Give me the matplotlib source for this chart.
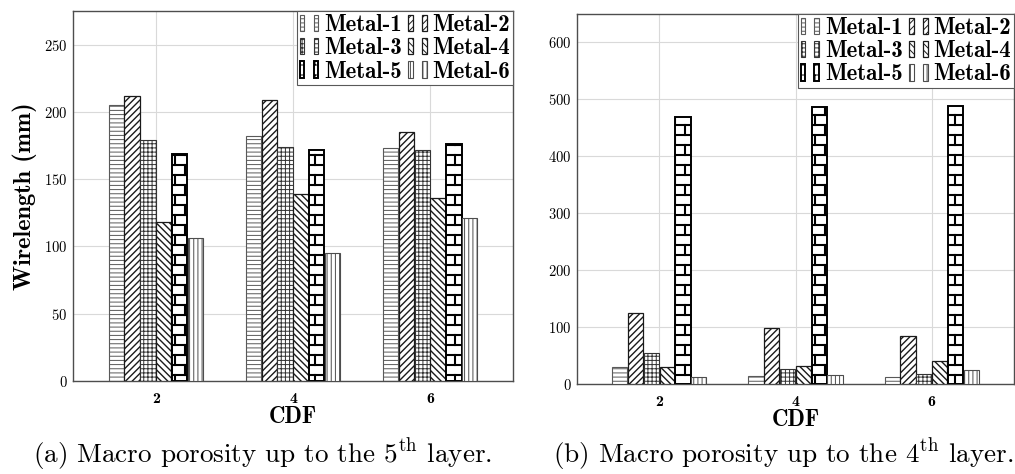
import warnings
warnings.filterwarnings("ignore")
import numpy as np
import matplotlib
matplotlib.use("Agg")
import matplotlib.pyplot as plt
import matplotlib.hatch as mhatch
from matplotlib.path import Path
from matplotlib.legend_handler import HandlerTuple

# ---------------- data ----------------
cdf = [2, 4, 6]
metals = ["Metal-1", "Metal-2", "Metal-3", "Metal-4", "Metal-5", "Metal-6"]

# (a) macro porosity up to the 5th layer
l5_metal1 = [205, 182, 173]
l5_metal2 = [212, 209, 185]
l5_metal3 = [179, 174, 172]
l5_metal4 = [118, 139, 136]
l5_metal5 = [169, 172, 176]
l5_metal6 = [106, 95, 121]

# (b) macro porosity up to the 4th layer
l4_metal1 = [29, 14, 12]
l4_metal2 = [125, 98, 85]
l4_metal3 = [55, 26, 17]
l4_metal4 = [29, 32, 41]
l4_metal5 = [469, 487, 489]
l4_metal6 = [13, 16, 25]

captions = [r"(a) Macro porosity up to the 5$^{\mathrm{th}}$ layer.",
            r"(b) Macro porosity up to the 4$^{\mathrm{th}}$ layer."]


# ---------------- custom brick hatch ----------------
class BrickHatch(mhatch.HatchPatternBase):
    rows = 10
    cols = 5

    def __init__(self, hatch, density):
        self.on = 'b' in hatch
        if self.on:
            self.num_vertices = 2 * self.rows + 2 * self.rows * self.cols + 2 * self.cols
        else:
            self.num_vertices = 0

    def set_vertices_and_codes(self, vertices, codes):
        k = 0
        r, c = self.rows, self.cols
        ys = [(i + 0.5) / r for i in range(r)]
        for y in ys:
            vertices[k] = (0.0, y)
            vertices[k + 1] = (1.0, y)
            codes[k] = Path.MOVETO
            codes[k + 1] = Path.LINETO
            k += 2
        for i in range(r):
            off = 0.25 + 0.5 * (i % 2)
            y0 = ys[i]
            y1 = ys[i] + 1.0 / r
            for j in range(c):
                xj = (j + off) / c
                if y1 <= 1.0:
                    vertices[k] = (xj, y0)
                    vertices[k + 1] = (xj, y1)
                    codes[k] = Path.MOVETO
                    codes[k + 1] = Path.LINETO
                    k += 2
                else:
                    vertices[k] = (xj, y0)
                    vertices[k + 1] = (xj, 1.0)
                    codes[k] = Path.MOVETO
                    codes[k + 1] = Path.LINETO
                    k += 2
                    vertices[k] = (xj, 0.0)
                    vertices[k + 1] = (xj, y1 - 1.0)
                    codes[k] = Path.MOVETO
                    codes[k + 1] = Path.LINETO
                    k += 2


mhatch._hatch_types.append(BrickHatch)

# ---------------- style ----------------
plt.rcParams["font.family"] = ["cmr10", "DejaVu Serif"]
plt.rcParams["mathtext.fontset"] = "cm"
plt.rcParams["axes.formatter.use_mathtext"] = True
plt.rcParams["hatch.linewidth"] = 0.7

hatches = ["----", "/////", "++++", "\\\\\\\\\\", "b", "||||"]
edgecols = ["0.35", "0.1", "0.2", "0.1", "0.0", "0.3"]
hatch_lw = [0.7, 1.0, 0.7, 1.0, 1.5, 0.7]
edge_lw = [0.8, 0.9, 0.8, 0.9, 1.4, 0.8]

fig = plt.figure(figsize=(10.15, 4.74), dpi=100)
ax_a = fig.add_axes([73 / 1015, 93 / 474, 440 / 1015, 370 / 474])
ax_b = fig.add_axes([577 / 1015, 90 / 474, 437 / 1015, 370 / 474])

panels = [
    (ax_a, [l5_metal1, l5_metal2, l5_metal3, l5_metal4, l5_metal5, l5_metal6], 275, [0, 50, 100, 150, 200, 250]),
    (ax_b, [l4_metal1, l4_metal2, l4_metal3, l4_metal4, l4_metal5, l4_metal6], 650, [0, 100, 200, 300, 400, 500, 600]),
]

x = np.array(cdf, dtype=float)
step = 0.232
width = 0.222
legend_order = [0, 2, 4, 1, 3, 5]  # row-wise filling as in the reference

for ax, vals, ytop, yticks in panels:
    conts = []
    for i, (name, v) in enumerate(zip(metals, vals)):
        with plt.rc_context({"hatch.linewidth": hatch_lw[i]}):
            bc = ax.bar(x + (i - 2.5) * step, v, width, facecolor="white",
                        edgecolor=edgecols[i], linewidth=edge_lw[i],
                        hatch=hatches[i], label=name, zorder=3)
        for p in bc.patches:
            if hasattr(p, "set_hatch_linewidth"):
                p.set_hatch_linewidth(hatch_lw[i])
        conts.append(bc)
    ax.set_xlim(0.79, 7.21)
    ax.set_ylim(0, ytop)
    ax.set_xticks(cdf)
    ax.set_xticklabels([str(c) for c in cdf], fontfamily="cmb10", fontsize=11.5)
    ax.set_yticks(yticks)
    ax.tick_params(axis="both", length=0)
    ax.tick_params(axis="x", pad=8)
    ax.tick_params(axis="y", pad=4, labelsize=10.5)
    ax.grid(True, color="0.85", linewidth=0.8, zorder=0)
    ax.set_axisbelow(True)
    for s in ax.spines.values():
        s.set_color("0.3")
        s.set_linewidth(1.0)
    ax.set_xlabel("CDF", fontfamily="cmb10", fontsize=16.5, labelpad=0)
    handles = [(conts[k].patches[0], conts[k].patches[0]) for k in legend_order]
    labels = [metals[k] for k in legend_order]
    leg = ax.legend(handles, labels, ncol=2, loc="upper right",
                    borderaxespad=0, frameon=True, fancybox=False,
                    edgecolor="0.35", framealpha=1,
                    prop={"family": "cmb10", "size": 16.5},
                    handler_map={tuple: HandlerTuple(ndivide=None, pad=0.4)},
                    handlelength=0.8, handleheight=0.7, handletextpad=0.25,
                    columnspacing=0.3, labelspacing=0.06, borderpad=0.12)
    leg.get_frame().set_linewidth(0.8)
    leg.set_zorder(5)

ax_a.set_ylabel("Wirelength (mm)", fontfamily="cmb10", fontsize=17.5, labelpad=5)

fig.text(263 / 1015, 12 / 474, captions[0], ha="center", va="baseline", fontsize=19.5)
fig.text(783 / 1015, 12 / 474, captions[1], ha="center", va="baseline", fontsize=19.5)

fig.savefig("out.png", dpi=100)
